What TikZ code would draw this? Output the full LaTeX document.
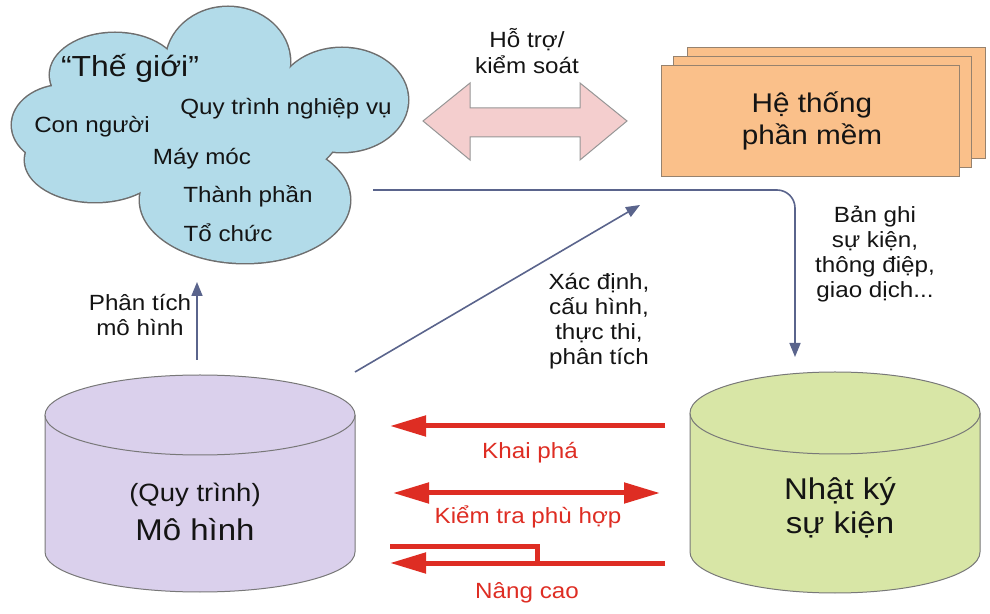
\documentclass[tikz,border=0pt]{standalone}
\usepackage{fontspec}
\setmainfont[FakeStretch=1.1]{Liberation Sans}
\usetikzlibrary{arrows.meta}

\definecolor{ink}{RGB}{20,20,20}
\definecolor{cloudfill}{RGB}{178,219,233}
\definecolor{cloudline}{RGB}{110,110,110}
\definecolor{pinkfill}{RGB}{244,206,206}
\definecolor{pinkline}{RGB}{150,150,150}
\definecolor{orangefill}{RGB}{250,192,138}
\definecolor{orangeline}{RGB}{150,130,110}
\definecolor{modelfill}{RGB}{218,208,236}
\definecolor{logfill}{RGB}{216,230,166}
\definecolor{cylline}{RGB}{120,120,120}
\definecolor{redc}{RGB}{222,45,35}
\definecolor{slate}{RGB}{90,100,140}

\newcommand\stacked[1]{\begin{tabular}[t]{@{}c@{}}#1\end{tabular}}
\newcommand\fsz[2]{\fontsize{#1}{#2}\selectfont}

\begin{document}
\begin{tikzpicture}[x=1pt,y=1pt,
  txt/.style={inner sep=0pt, anchor=base, text=ink},
  label/.style={txt, font=\fsz{22}{25}},
  redlabel/.style={txt, font=\fsz{22}{25}, text=redc},
  flow/.style={draw=slate, line width=1.6pt, -{Triangle[length=14pt,width=11pt]}},
  redline/.style={draw=redc, line width=5pt, line join=miter},
  redarrow/.style={redline, -{Triangle[length=36pt,width=20pt]}},
  redboth/.style={redline, {Triangle[length=36pt,width=20pt]}-{Triangle[length=36pt,width=20pt]}},
  sheet/.style={draw=orangeline, fill=orangefill, line width=0.8pt, minimum width=298pt, minimum height=111pt, inner sep=0pt}
]
\useasboundingbox (0,0) rectangle (990,613);

% ---------- the "world" cloud: union of overlapping lobes ----------
\def\lobes{65/488/53/40, 115/538/65/42, 228/551/62/55, 342/513/66/52,
           245/413/105/63, 95/453/70/42, 200/483/140/65}
\foreach \cx/\cy/\rx/\ry in \lobes
  \draw[cloudline, line width=3pt] (\cx,\cy) ellipse [x radius=\rx pt, y radius=\ry pt];
\foreach \cx/\cy/\rx/\ry in \lobes
  \fill[cloudfill] (\cx,\cy) ellipse [x radius=\rx pt, y radius=\ry pt];

\node[txt, font=\fsz{29}{34}] (world) at (130,536) {“Thế giới”};
\node[label] (w-proc) at (286,498) {Quy trình nghiệp vụ};
\node[label] (w-people) at (92,480) {Con người};
\node[label] (w-machine) at (202,448) {Máy móc};
\node[label] (w-comp) at (248,410) {Thành phần};
\node[label] (w-org) at (228,371) {Tổ chức};

% ---------- support / control double arrow ----------
\filldraw[fill=pinkfill, draw=pinkline, line width=1pt, line join=miter]
  (423,492) -- (470,530) -- (470,505) -- (580,505) -- (580,530) -- (627,492)
  -- (580,453) -- (580,476) -- (470,476) -- (470,453) -- cycle;
\node[label] (support) at (527,565) {\stacked{Hỗ trợ/\\kiểm soát}};

% ---------- software system (stacked sheets) ----------
\node[sheet] (sw-back) at (836,510.5) {};
\node[sheet] (sw-mid) at (822.5,501) {};
\node[sheet] (sw) at (810.5,492) {};
\node[txt, font=\fsz{27}{32}] (sw-text) at (812,500) {\stacked{Hệ thống\\phần mềm}};

% ---------- process model cylinder ----------
\fill[modelfill] (45,198) -- (45,61) arc[start angle=180, end angle=360, x radius=155pt, y radius=40pt] -- (355,198) -- cycle;
\draw[cylline, line width=1pt] (45,198) -- (45,61) arc[start angle=180, end angle=360, x radius=155pt, y radius=40pt] -- (355,198);
\filldraw[fill=modelfill, draw=cylline, line width=1pt] (200,198) ellipse [x radius=155pt, y radius=40pt];
\node[txt, font=\fsz{25}{30}] (model-a) at (195,111) {(Quy trình)};
\node[txt, font=\fsz{30}{36}] (model) at (195,73) {Mô hình};

% ---------- event log cylinder ----------
\fill[logfill] (690,200) -- (690,61) arc[start angle=180, end angle=360, x radius=145pt, y radius=41pt] -- (980,200) -- cycle;
\draw[cylline, line width=1pt] (690,200) -- (690,61) arc[start angle=180, end angle=360, x radius=145pt, y radius=41pt] -- (980,200);
\filldraw[fill=logfill, draw=cylline, line width=1pt] (835,200) ellipse [x radius=145pt, y radius=41pt];
\node[txt, font=\fsz{30}{33}] (log) at (840,113) {\stacked{Nhật ký\\sự kiện}};

% ---------- blue flows ----------
\coordinate (rec-start) at (373,423);
\coordinate (rec-end) at (795,256);
\draw[flow, rounded corners=18pt] (rec-start) -| (rec-end);
\node[label] (rec-label) at (875,390) {\stacked{Bản ghi\\sự kiện,\\thông điệp,\\giao dịch...}};

\coordinate (cfg-start) at (355,241);
\coordinate (cfg-end) at (640,408);
\draw[flow] (cfg-start) -- (cfg-end);
\node[label] (cfg-label) at (599,323) {\stacked{Xác định,\\cấu hình,\\thực thi,\\phân tích}};

\coordinate (an-start) at (197,253);
\coordinate (an-end) at (197,331);
\draw[flow] (an-start) -- (an-end);
\node[label] (an-label) at (140,302) {\stacked{Phân tích\\mô hình}};

% ---------- red relations between log and model ----------
\coordinate (disc-r) at (665,187);
\coordinate (disc-l) at (390,187);
\draw[redarrow] (disc-r) -- (disc-l);
\node[redlabel] (disc) at (530,154) {Khai phá};

\coordinate (conf-l) at (393,120);
\coordinate (conf-r) at (660,120);
\draw[redboth] (conf-l) -- (conf-r);
\node[redlabel] (conf) at (528,89) {Kiểm tra phù hợp};

\coordinate (enh-top) at (390,67);
\coordinate (enh-joint) at (537,50);
\coordinate (enh-r) at (665,50);
\coordinate (enh-l) at (390,50);
\draw[redline] (enh-top) -| (enh-joint);
\draw[redarrow] (enh-r) -- (enh-l);
\node[redlabel] (enh) at (527,15) {Nâng cao};
\end{tikzpicture}
\end{document}
